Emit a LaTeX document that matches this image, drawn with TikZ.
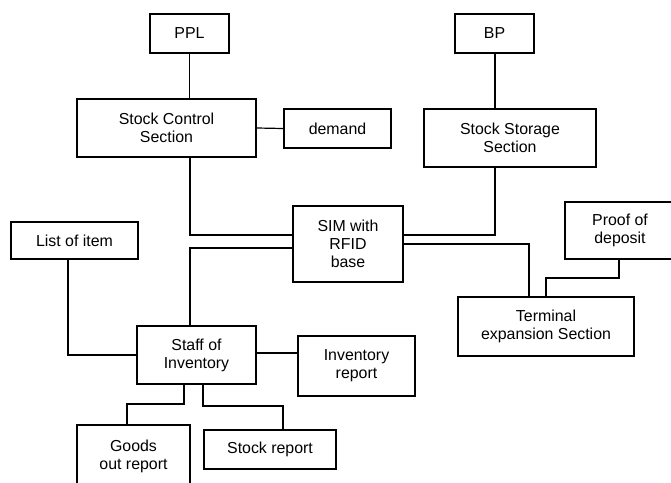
\documentclass[tikz,border=0pt]{standalone}
\usepackage{fontspec}
\setmainfont{Liberation Sans}
\begin{document}
\begin{tikzpicture}[x=1pt,y=-1pt,
  box/.style={draw=black,line width=1.8pt,rectangle,align=center,inner sep=0pt,
    font=\fontsize{15.9}{18}\selectfont},
  link/.style={draw=black,line width=1.2pt}]
\useasboundingbox (0,0) rectangle (671,482);
\clip (0,0) rectangle (671,482);

% boxes
\node[box,minimum width=79pt,minimum height=39pt] (ppl) at (189.5,33.5) {PPL};
\node[box,minimum width=79pt,minimum height=39pt] (bp) at (494.5,33.5) {BP};
\node[box,minimum width=179pt,minimum height=58pt] (control) at (166.5,128) {Stock Control\\Section};
\node[box,minimum width=107pt,minimum height=39pt] (demand) at (337.5,128.5) {demand};
\node[box,minimum width=172pt,minimum height=58pt] (storage) at (510,138) {Stock Storage\\Section};
\node[box,minimum width=110pt,minimum height=76pt] (sim) at (348,244) {SIM with\\RFID\\base};
\node[box,minimum width=127pt,minimum height=37pt] (list) at (74.5,240.5) {List of item};
\node[box,minimum width=110pt,minimum height=57pt] (proof) at (620,230.5) {Proof of\\deposit};
\node[box,minimum width=176pt,minimum height=59pt] (terminal) at (546,326.5) {Terminal\\expansion Section};
\node[box,minimum width=119pt,minimum height=58pt] (staff) at (196.5,355) {Staff of\\Inventory};
\node[box,minimum width=117pt,minimum height=60pt] (invrep) at (356.5,366) {Inventory\\report};
\node[box,minimum width=113pt,minimum height=62pt] (goods) at (133.5,456) {Goods\\out report};
\node[box,minimum width=132pt,minimum height=39pt] (stockrep) at (270,449.5) {Stock report};

% bend points
\coordinate (c1) at (190,235);
\coordinate (c2) at (495,235);
\coordinate (c3) at (529,244);
\coordinate (c4) at (619,278);
\coordinate (c5) at (190,248);
\coordinate (c6) at (68,355);
\coordinate (c7) at (184,404);
\coordinate (c8) at (127,404);
\coordinate (c9) at (203,406);
\coordinate (c10) at (283,406);
\coordinate (c11) at (256,353);

% connectors
\draw[link] (ppl.south) -- (ppl.south |- control.north);
\draw[link] (bp.south -| c2) -- (c2 |- storage.north);
\draw[link] (control.east) -- (demand.west);
\draw[link] (control.south -| c1) -- (c1) -- (c1 -| sim.west);
\draw[link] (storage.south -| c2) -- (c2) -- (c2 -| sim.east);
\draw[link] (sim.east |- c3) -- (c3) -- (c3 |- terminal.north);
\draw[link] (proof.south -| c4) -- (c4) -- (c4 -| terminal.north) -- (terminal.north);
\draw[link] (sim.west |- c5) -- (c5) -- (c5 |- staff.north);
\draw[link] (list.south -| c6) -- (c6) -- (c6 -| staff.west);
\draw[link] (staff.east |- c11) -- (c11 -| invrep.west);
\draw[link] (staff.south -| c7) -- (c7) -- (c8) -- (c8 |- goods.north);
\draw[link] (staff.south -| c9) -- (c9) -- (c10) -- (c10 |- stockrep.north);
\end{tikzpicture}
\end{document}
